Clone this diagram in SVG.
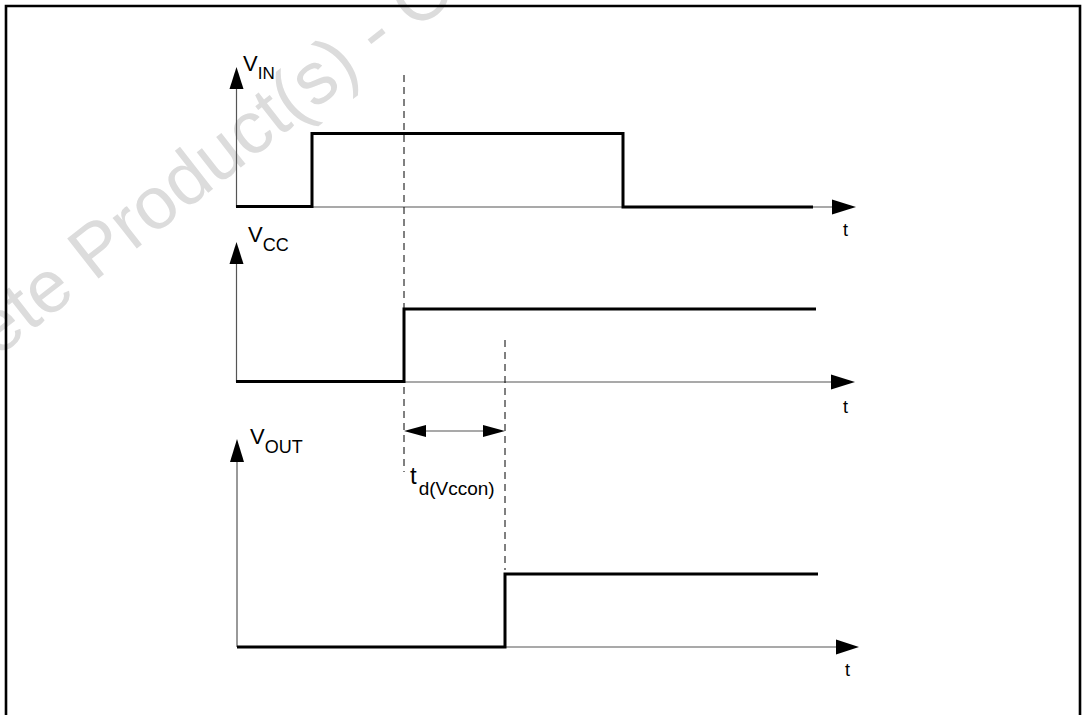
<svg xmlns="http://www.w3.org/2000/svg" width="1082" height="715" viewBox="0 0 1082 715">
<style>
.frame{fill:none;stroke:#000;stroke-width:2.6}
.axis{fill:none;stroke:#555;stroke-width:1.2}
.sig{fill:none;stroke:#000;stroke-width:3;stroke-linejoin:miter;stroke-linecap:butt}
.dash{fill:none;stroke:#000;stroke-width:1;stroke-dasharray:7 5}
.head{fill:#000}
.lbl{font-family:"Liberation Sans",Arial,sans-serif;fill:#000}
.wm{font-family:"Liberation Sans",Arial,sans-serif;font-size:74px;fill:#dcdcdc}
</style>
<rect width="1082" height="715" fill="#fff"/>
<g id="watermark">
<text class="wm" transform="translate(94,282) rotate(-38)" x="-317" y="0">Obsolete Product(s) - Obsolete Product(s)</text>
</g>
<path class="frame" d="M6,716 V6 H1080 V716"/>
<g id="connectors">
<line class="axis" x1="236.5" y1="88" x2="236.5" y2="207"/>
<polygon class="head" points="236.5,67 229.5,89 243.5,89"/>
<line class="axis" x1="236" y1="207" x2="834" y2="207"/>
<polygon class="head" points="856,207 832,199.5 832,214.5"/>
<line class="axis" x1="236.5" y1="262" x2="236.5" y2="382"/>
<polygon class="head" points="236.5,242 229.5,264 243.5,264"/>
<line class="axis" x1="236" y1="382" x2="834" y2="382"/>
<polygon class="head" points="855,382 831,374.5 831,389.5"/>
<line class="axis" x1="237" y1="461" x2="237" y2="647"/>
<polygon class="head" points="237,439 230,462 244,462"/>
<line class="axis" x1="237" y1="647" x2="838" y2="647"/>
<polygon class="head" points="859,647 836,639.5 836,654.5"/>
<line class="dash" x1="404" y1="75" x2="404" y2="472"/>
<line class="dash" x1="505" y1="340" x2="505" y2="570"/>
<line class="axis" x1="424" y1="431" x2="485" y2="431"/>
<polygon class="head" points="404,431 426,425 426,437"/>
<polygon class="head" points="505,431 483,425 483,437"/>
</g>
<g id="vin-signal">
<polyline class="sig" points="236,206.5 312,206.5 312,133.5 623,133.5 623,207 813,207"/>
<text class="lbl" x="243" y="71" font-size="22">V<tspan font-size="17" dy="8">IN</tspan></text>
<text class="lbl" x="843" y="236" font-size="18">t</text>
</g>
<g id="vcc-signal">
<polyline class="sig" points="236,381.5 404,381.5 404,309 816,309"/>
<text class="lbl" x="248" y="242" font-size="22">V<tspan font-size="18" dy="9">CC</tspan></text>
<text class="lbl" x="843" y="413" font-size="18">t</text>
</g>
<g id="vout-signal">
<polyline class="sig" points="237,647 505,647 505,574 818,574"/>
<text class="lbl" x="250" y="444" font-size="22">V<tspan font-size="18" dy="9">OUT</tspan></text>
<text class="lbl" x="845" y="676" font-size="18">t</text>
</g>
<g id="delay-label">
<text class="lbl" x="410" y="484" font-size="24">t<tspan font-size="19" dx="2" dy="11">d(Vccon)</tspan></text>
</g>
</svg>
